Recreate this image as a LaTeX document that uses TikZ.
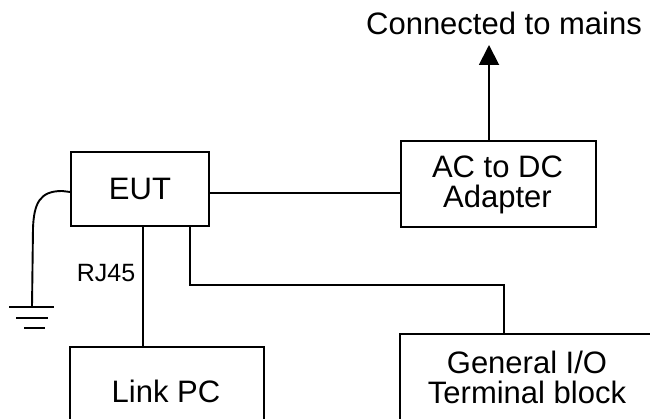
\documentclass[tikz,border=0pt]{standalone}
\usepackage{fontspec}
\setmainfont{Liberation Sans}
\usetikzlibrary{arrows.meta}

\tikzset{
  wire/.style={line width=1.9pt, black},
  block/.style={draw=black, line width=1.9pt, rectangle, inner sep=0pt},
  lbl/.style={inner sep=0pt, align=center, font=\fontsize{31}{30}\selectfont},
  small/.style={inner sep=0pt, font=\fontsize{25}{25}\selectfont},
}

\begin{document}
\begin{tikzpicture}[x=1pt, y=-1pt]
  \useasboundingbox (0,0) rectangle (650,419);
  \clip (0,0) rectangle (650,419);

  % blocks
  \node[block, minimum width=138pt, minimum height=74pt, anchor=north west] (eut) at (70,151) {};
  \node[lbl] (eutl) at (eut.center) {EUT};
  \node[block, minimum width=195pt, minimum height=86pt, anchor=north west] (ac) at (400,140) {};
  \node[lbl] (acl) at (497.5,185) {AC to DC\\Adapter};
  \node[block, minimum width=194pt, minimum height=110pt, anchor=north west] (link) at (69,346) {};
  \node[lbl] (linkl) at (166,391) {Link PC};
  \node[block, minimum width=256pt, minimum height=110pt, anchor=north west] (gen) at (399,333) {};
  \node[lbl] (genl) at (527,377) {General I/O\\Terminal block};

  % free labels
  \node[lbl, anchor=base] (mainsl) at (504,35) {Connected to mains};
  \node[small, anchor=base] (rj45) at (106,282) {RJ45};

  % routing points
  \coordinate (mains) at (489,45);
  \coordinate (rj) at (143,0);
  \coordinate (iobend) at (190,285);
  \coordinate (iodrop) at (504,285);
  \coordinate (gnd) at (32,307);

  % EUT to adapter, adapter to mains
  \draw[wire] ([yshift=-4pt]eut.east) -- ([yshift=-4pt]eut.east -| ac.west);
  \draw[wire, -{Triangle[length=20pt, width=20pt]}] (mains |- ac.north) -- (mains);

  % RJ45 link to PC
  \draw[wire] (eut.south -| rj) -- (link.north -| rj);

  % general I/O cable
  \draw[wire] (eut.south -| iobend) -- (iobend) -- (iodrop) -- (gen.north -| iodrop);

  % earth lead and ground symbol
  \draw[wire] ([yshift=-3pt]eut.west) -- (62,191)
    .. controls (40,191) and (34,203) .. (33,228) -- (gnd);
  \draw[wire] ([xshift=-23pt]gnd) -- ([xshift=22pt]gnd);
  \draw[wire] ([xshift=-16pt,yshift=-11pt]gnd) -- ([xshift=16pt,yshift=-11pt]gnd);
  \draw[wire] ([xshift=-8pt,yshift=-21pt]gnd) -- ([xshift=13pt,yshift=-21pt]gnd);
\end{tikzpicture}
\end{document}
